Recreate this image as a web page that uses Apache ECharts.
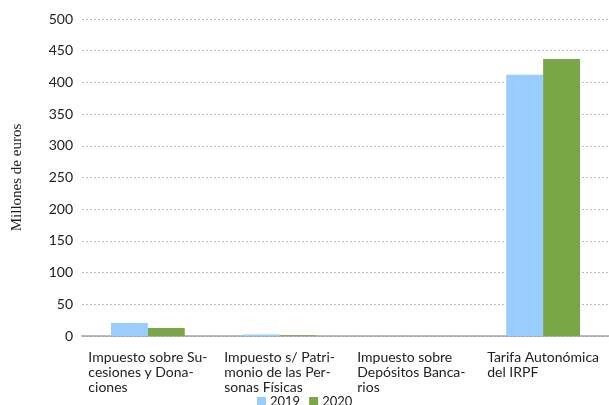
<!DOCTYPE html>
<html>
<head>
<meta charset="utf-8">
<script src="https://cdn.jsdelivr.net/npm/echarts@6/dist/echarts.min.js"></script>
<style>
  html, body { margin: 0; padding: 0; background: #fff; }
  #chart { width: 609px; height: 405px; }
</style>
</head>
<body>
<div id="chart"></div>
<script>
// categories (with the original line breaks) and values in millions of euros
const categories = [
  'Impuesto sobre Su-\ncesiones y Dona-\nciones',
  'Impuesto s/ Patri-\nmonio de las Per-\nsonas Físicas',
  'Impuesto sobre\nDepósitos Banca-\nrios',
  'Tarifa Autonómica\ndel IRPF',
]
const values2019 = [20.5, 2.5, 0, 412]
const values2020 = [12.5, 1, 0, 437]
const yTicks = [0, 50, 100, 150, 200, 250, 300, 350, 400, 450, 500]

const chart = echarts.init(document.getElementById('chart'))

chart.setOption({
  animation: false,
  color: ['#99CCFF', '#7AA647'],
  grid: { left: 82, right: 0, top: 19, bottom: 69 },
  legend: {
    data: ['2019', '2020'],
    top: 390,
    left: 252,
    itemWidth: 9,
    itemHeight: 9,
    itemGap: 9,
    icon: 'rect',
    textStyle: { fontFamily: 'Lato', fontSize: 13, color: '#222', padding: [0, 0, 0, -1] },
  },
  xAxis: {
    type: 'category',
    data: categories,
    axisTick: { show: false },
    axisLine: { lineStyle: { color: '#A0A0A0', width: 1.5, type: [2, 1] } },
    axisLabel: {
      interval: 0,
      margin: 14,
      formatter: (v) => v.split('\n').map((l) => '{a|' + l + '}').join('\n'),
      rich: {
        a: { align: 'left', fontFamily: 'Lato', fontSize: 14, lineHeight: 15, color: '#222' },
      },
    },
  },
  yAxis: {
    type: 'value',
    min: yTicks[0],
    max: yTicks[yTicks.length - 1],
    interval: 50,
    name: 'Millones de euros',
    nameLocation: 'middle',
    nameGap: 57,
    nameTextStyle: { fontFamily: 'Liberation Serif', fontSize: 15, color: '#222' },
    axisLine: { show: false },
    axisTick: { show: false },
    axisLabel: { fontFamily: 'Lato', fontSize: 14, color: '#222', margin: 9 },
    splitLine: { lineStyle: { color: '#BBBBBB', type: [2, 2], width: 1 } },
  },
  series: [
    {
      name: '2019',
      type: 'bar',
      data: values2019,
      barGap: '0%',
      barCategoryGap: '44%',
    },
    {
      name: '2020',
      type: 'bar',
      data: values2020,
    },
  ],
})
</script>
</body>
</html>
